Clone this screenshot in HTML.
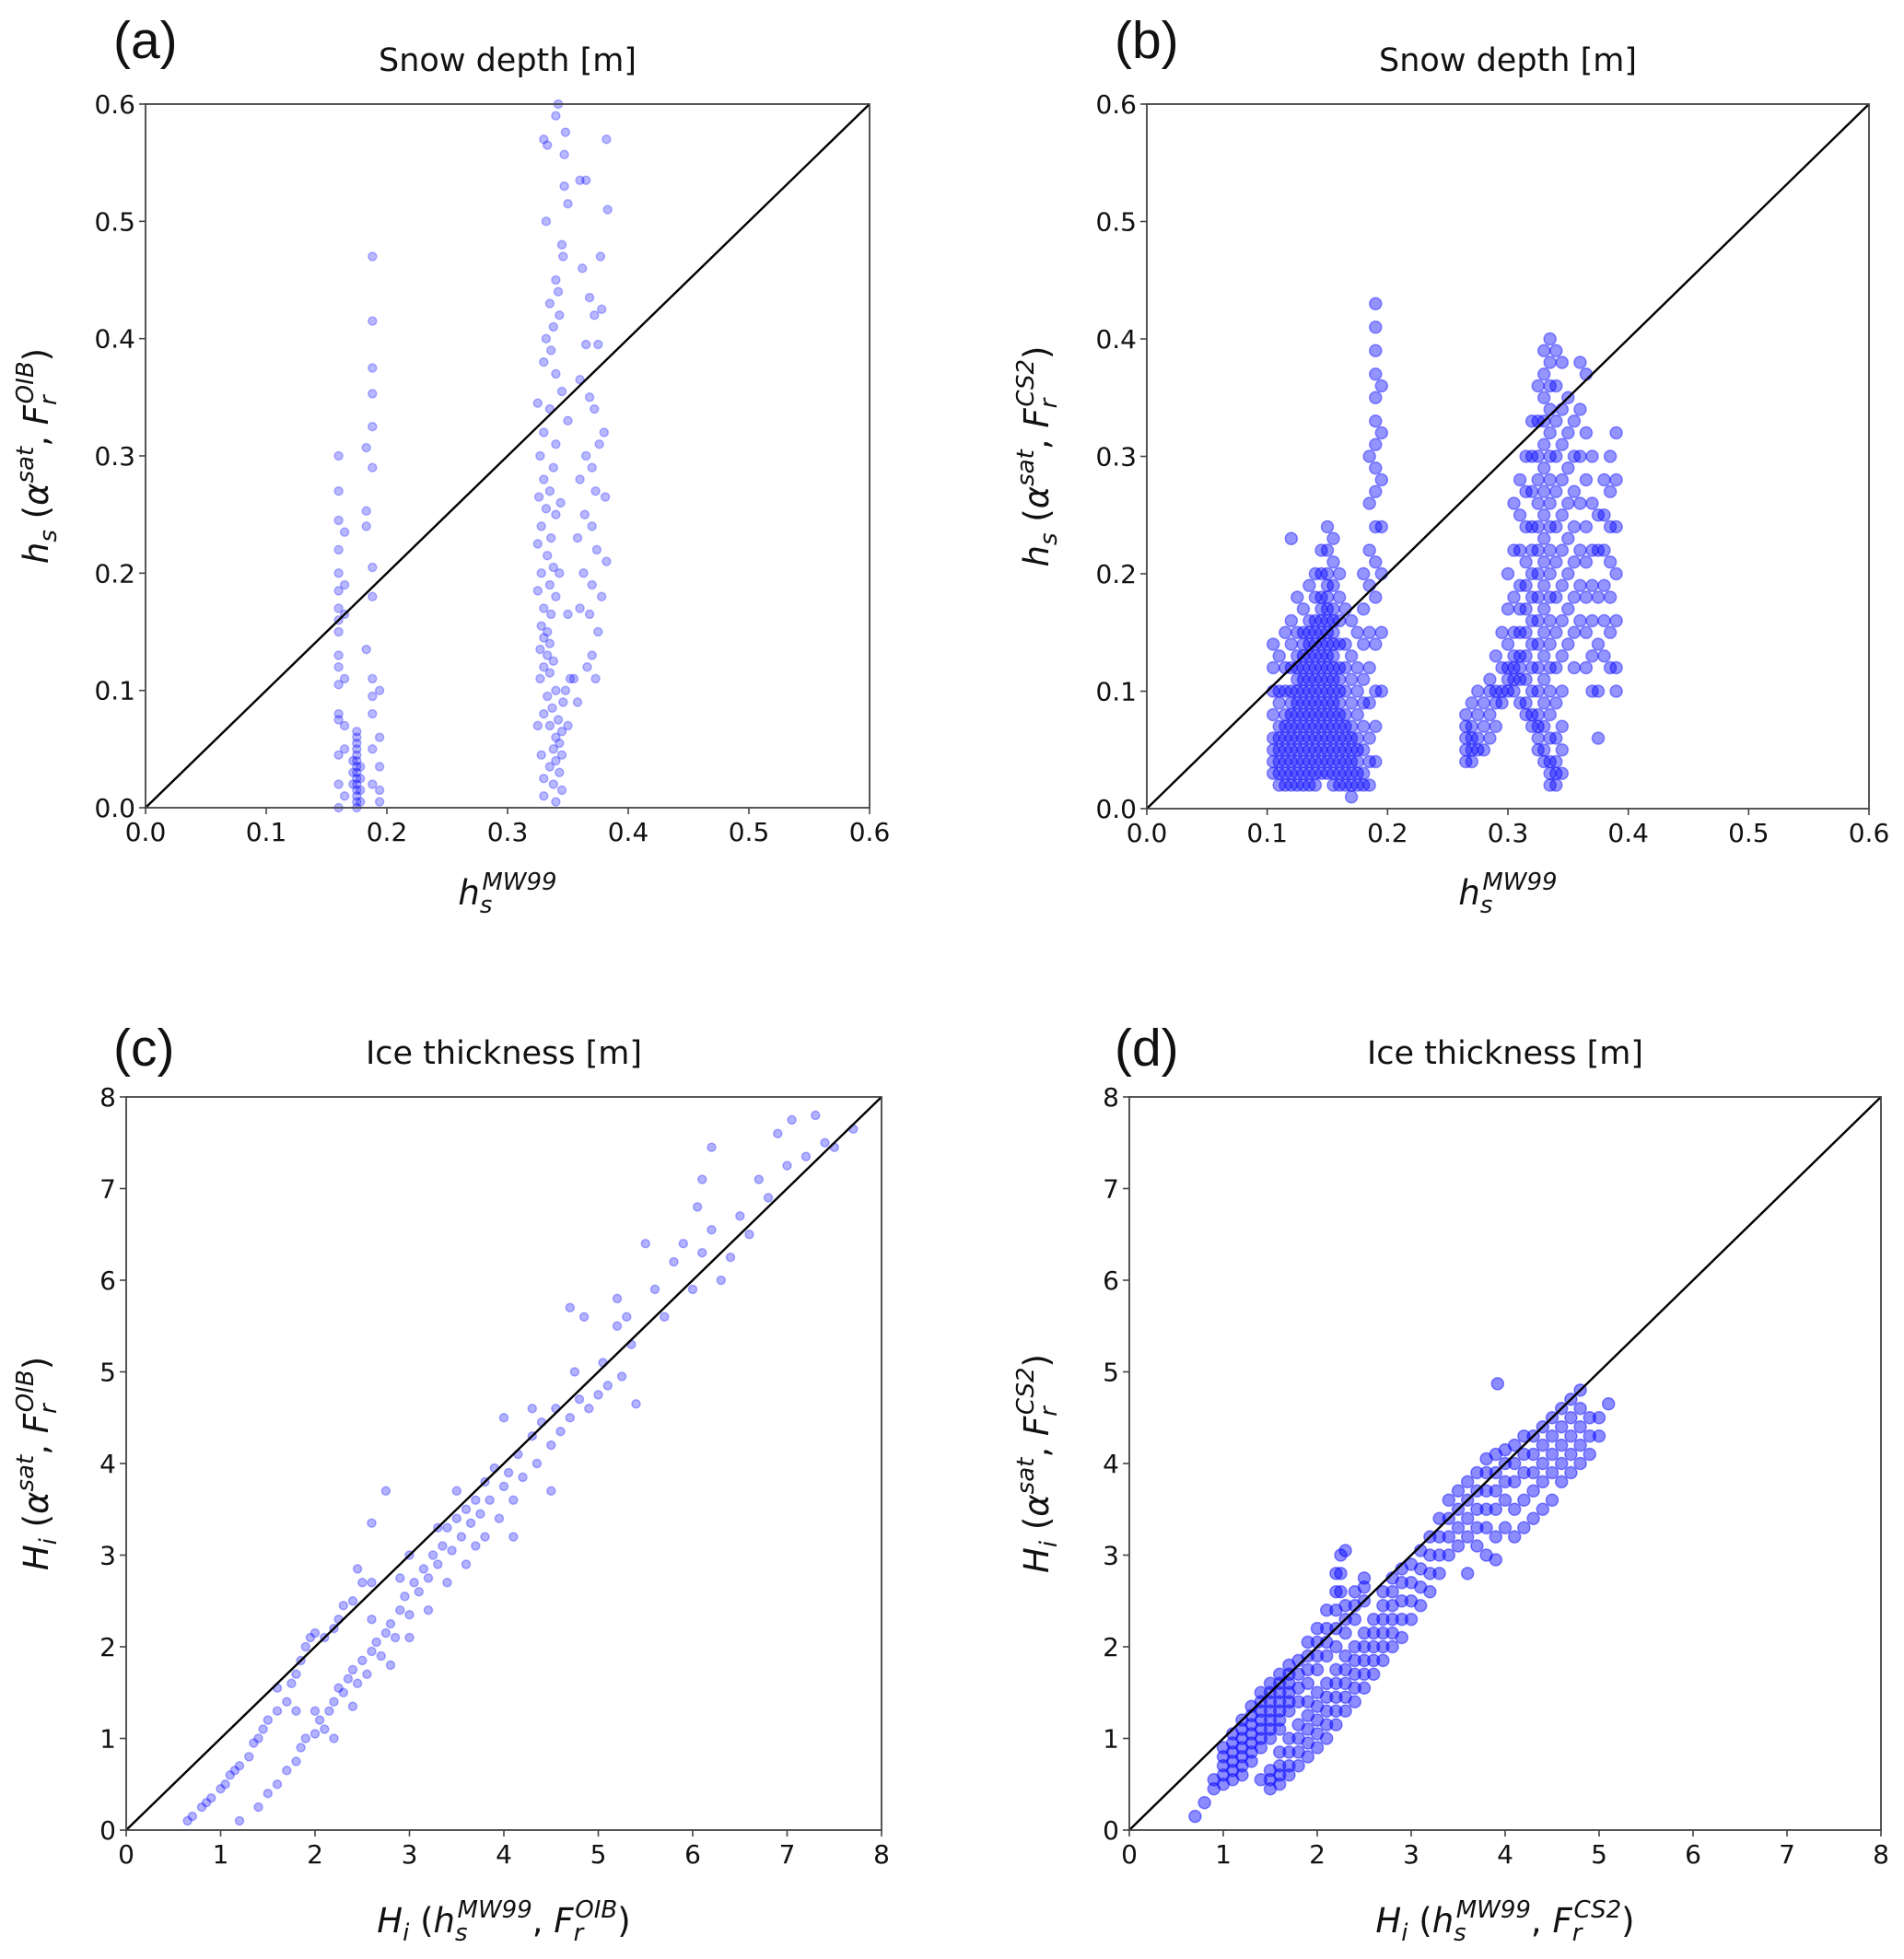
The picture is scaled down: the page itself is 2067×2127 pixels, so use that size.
<!DOCTYPE html>
<html><head><meta charset="utf-8">
<style>
html,body{margin:0;padding:0;background:#fff;}
svg{display:block;font-family:"DejaVu Sans","Liberation Sans",sans-serif;}
</style></head>
<body>
<svg id="fig" width="2067" height="2127" viewBox="0 0 2067 2127" xmlns="http://www.w3.org/2000/svg"></svg>
<script>
// ---------- Panel (a) data ----------
const aX = [0.16,0.16,0.16,0.16,0.16,0.16,0.16,0.16,0.16,0.16,0.16,0.16,0.16,0.16,0.16,0.16,0.16,
0.165,0.165,0.165,0.165,0.165,0.165,0.165,
0.175,0.175,0.175,0.175,0.175,0.175,0.175,0.175,0.175,0.175,0.175,0.175,0.175,0.175,
0.172,0.172,0.172,0.178,0.178,0.178,0.178,
0.188,0.188,0.188,0.188,0.188,0.188,0.188,0.188,0.188,0.188,0.188,0.188,0.188,
0.183,0.183,0.183,0.183,0.194,0.194,0.194,0.194,0.194,
0.33,0.333,0.342,0.348,0.347,0.34,0.35,0.332,0.347,0.345,0.346,0.34,0.342,0.335,0.343,0.338,0.332,0.336,0.34,0.33,0.345,0.335,0.325,0.33,0.34,0.35,0.327,0.338,0.33,0.335,0.326,0.332,0.34,0.328,0.336,0.325,0.333,0.338,0.328,0.335,0.325,0.34,0.33,0.336,0.328,0.333,0.33,0.335,0.327,0.333,0.338,0.33,0.335,0.327,0.34,0.333,0.337,0.33,0.342,0.335,0.345,0.34,0.343,0.338,0.345,0.34,0.335,0.343,0.33,0.338,0.345,0.33,0.34,0.325,0.328,0.348,0.35,0.346,0.344,0.343,0.35,0.355,
0.36,0.365,0.382,0.383,0.377,0.362,0.368,0.372,0.378,0.365,0.375,0.36,0.368,0.372,0.38,0.376,0.365,0.37,0.36,0.373,0.381,0.364,0.37,0.358,0.374,0.382,0.363,0.37,0.378,0.36,0.368,0.375,0.37,0.366,0.373,0.358,0.352];
const aY = [0.30,0.27,0.245,0.22,0.20,0.185,0.17,0.16,0.15,0.13,0.12,0.105,0.08,0.075,0.045,0.02,0.0,
0.235,0.19,0.165,0.11,0.07,0.05,0.01,
0.06,0.05,0.04,0.035,0.03,0.025,0.02,0.015,0.01,0.005,0.0,0.045,0.055,0.065,
0.04,0.03,0.02,0.035,0.025,0.015,0.005,
0.47,0.415,0.375,0.353,0.325,0.29,0.205,0.18,0.11,0.095,0.08,0.05,0.02,
0.307,0.253,0.24,0.135,0.1,0.06,0.035,0.015,0.005,
0.57,0.565,0.6,0.576,0.557,0.59,0.515,0.5,0.53,0.48,0.47,0.45,0.44,0.43,0.42,0.41,0.4,0.39,0.37,0.38,0.355,0.34,0.345,0.32,0.31,0.33,0.3,0.29,0.28,0.27,0.265,0.255,0.25,0.24,0.23,0.225,0.215,0.205,0.2,0.19,0.185,0.18,0.17,0.165,0.155,0.15,0.145,0.14,0.135,0.13,0.125,0.12,0.115,0.11,0.1,0.095,0.085,0.08,0.075,0.07,0.065,0.06,0.055,0.05,0.045,0.04,0.035,0.03,0.025,0.02,0.015,0.01,0.005,0.07,0.045,0.1,0.07,0.09,0.26,0.2,0.165,0.11,
0.535,0.535,0.57,0.51,0.47,0.46,0.435,0.42,0.425,0.395,0.395,0.365,0.35,0.34,0.32,0.31,0.3,0.29,0.28,0.27,0.265,0.25,0.24,0.23,0.22,0.21,0.2,0.19,0.18,0.17,0.165,0.15,0.13,0.12,0.11,0.09,0.11];

// ---------- Panel (b) data (columns) ----------
const bColX = [0.105,0.11,0.115,0.12,0.125,0.13,0.135,0.14,0.145,0.15,0.155,0.16,0.165,0.17,0.175,0.18,0.185,0.19,0.195,
0.265,0.27,0.275,0.28,0.285,0.29,0.295,0.3,0.305,0.31,0.315,0.32,0.325,0.33,0.335,0.34,0.345,0.35,0.355,0.36,0.365,0.37,0.375,0.38,0.385,0.39];
const bColY = [
[0.14,0.12,0.1,0.08,0.06,0.05,0.04,0.03],
[0.13,0.1,0.09,0.07,0.06,0.05,0.04,0.03,0.02],
[0.15,0.12,0.1,0.08,0.07,0.06,0.05,0.04,0.03,0.02],
[0.23,0.16,0.14,0.12,0.1,0.09,0.08,0.07,0.06,0.05,0.04,0.03,0.02],
[0.18,0.15,0.13,0.12,0.11,0.1,0.09,0.08,0.07,0.06,0.05,0.04,0.03,0.02],
[0.17,0.15,0.14,0.13,0.12,0.11,0.1,0.09,0.08,0.07,0.06,0.05,0.04,0.03,0.02],
[0.19,0.16,0.15,0.14,0.13,0.12,0.11,0.1,0.09,0.08,0.07,0.06,0.05,0.04,0.03,0.02],
[0.2,0.18,0.16,0.15,0.14,0.13,0.12,0.11,0.1,0.09,0.08,0.07,0.06,0.05,0.04,0.03,0.02],
[0.22,0.2,0.18,0.17,0.16,0.15,0.14,0.13,0.12,0.11,0.1,0.09,0.08,0.07,0.06,0.05,0.04,0.03],
[0.24,0.22,0.2,0.19,0.18,0.17,0.16,0.15,0.14,0.13,0.12,0.11,0.1,0.09,0.08,0.07,0.06,0.05,0.04,0.03],
[0.23,0.21,0.19,0.17,0.16,0.15,0.14,0.13,0.12,0.11,0.1,0.09,0.08,0.07,0.06,0.05,0.04,0.03,0.02],
[0.2,0.18,0.16,0.14,0.12,0.11,0.1,0.09,0.08,0.07,0.06,0.05,0.04,0.03,0.02],
[0.17,0.14,0.12,0.1,0.08,0.07,0.06,0.05,0.04,0.03,0.02],
[0.16,0.13,0.11,0.09,0.07,0.06,0.05,0.04,0.03,0.02,0.01],
[0.15,0.12,0.1,0.08,0.06,0.05,0.04,0.03,0.02],
[0.2,0.17,0.14,0.11,0.09,0.07,0.05,0.03,0.02],
[0.3,0.26,0.22,0.19,0.15,0.12,0.09,0.06,0.04,0.02],
[0.43,0.41,0.39,0.37,0.35,0.33,0.31,0.29,0.27,0.24,0.21,0.18,0.14,0.1,0.07,0.04],
[0.36,0.32,0.28,0.24,0.2,0.15,0.1],
[0.08,0.07,0.06,0.05,0.04],
[0.09,0.07,0.06,0.05,0.04],
[0.1,0.08,0.06,0.05],
[0.09,0.07,0.05],
[0.11,0.1,0.08,0.06],
[0.13,0.1,0.09,0.07],
[0.15,0.12,0.1,0.09],
[0.2,0.17,0.14,0.12,0.11,0.1],
[0.26,0.22,0.18,0.15,0.13,0.12,0.11,0.1],
[0.28,0.25,0.22,0.19,0.17,0.15,0.13,0.12,0.11,0.09],
[0.3,0.27,0.24,0.21,0.19,0.17,0.15,0.13,0.11,0.09,0.08],
[0.33,0.3,0.27,0.24,0.22,0.2,0.18,0.16,0.14,0.12,0.1,0.08,0.07],
[0.36,0.33,0.3,0.28,0.26,0.24,0.22,0.2,0.18,0.16,0.14,0.12,0.1,0.08,0.07,0.06,0.05],
[0.39,0.37,0.35,0.33,0.31,0.29,0.27,0.25,0.23,0.21,0.19,0.17,0.15,0.13,0.11,0.09,0.07,0.05,0.04],
[0.4,0.38,0.36,0.34,0.32,0.3,0.28,0.26,0.24,0.22,0.2,0.18,0.16,0.14,0.12,0.1,0.08,0.06,0.04,0.03,0.02],
[0.39,0.36,0.33,0.3,0.27,0.24,0.21,0.18,0.15,0.12,0.09,0.06,0.04,0.03,0.02],
[0.38,0.34,0.31,0.28,0.25,0.22,0.19,0.16,0.13,0.1,0.07,0.05,0.03],
[0.35,0.32,0.29,0.26,0.23,0.2,0.17,0.14],
[0.33,0.3,0.27,0.24,0.21,0.18,0.15,0.12],
[0.38,0.34,0.3,0.26,0.22,0.19,0.16],
[0.37,0.32,0.28,0.24,0.21,0.18,0.15,0.12],
[0.3,0.26,0.22,0.19,0.16,0.13,0.1],
[0.25,0.22,0.18,0.14,0.1,0.06],
[0.28,0.25,0.22,0.19,0.16,0.13],
[0.3,0.27,0.24,0.21,0.18,0.15,0.12],
[0.32,0.28,0.24,0.2,0.16,0.12,0.1]];

// ---------- Panel (c) data ----------
const cX = [0.65,0.7,0.8,0.85,0.9,1.0,1.05,1.1,1.15,1.2,1.3,1.35,1.4,1.45,1.5,1.6,1.6,1.7,1.75,1.8,1.85,1.9,1.95,2.0,2.1,2.2,2.25,2.4,2.45,2.6,2.6,2.75,2.5,2.3,
1.2,1.4,1.5,1.6,1.7,1.8,1.85,1.9,2.0,2.05,2.1,2.15,2.2,2.25,2.3,2.35,2.4,2.45,2.5,2.55,2.6,2.65,2.7,2.75,2.8,2.85,2.9,2.95,3.0,3.05,3.1,3.15,3.2,3.25,3.3,3.35,3.4,3.45,3.5,3.55,3.6,3.65,3.7,3.75,3.8,3.85,3.9,3.95,4.0,4.05,4.1,4.15,4.2,4.3,4.35,4.4,4.5,4.55,4.6,4.7,4.75,4.8,4.85,4.9,5.0,5.05,5.1,5.2,5.25,5.3,5.35,5.4,5.5,5.6,5.7,5.8,5.9,6.0,6.05,6.1,6.2,6.3,6.4,6.5,6.6,6.7,6.8,6.9,7.0,7.05,7.2,7.3,7.4,7.5,7.7,6.2,6.1,2.0,2.4,2.8,3.0,3.2,3.4,3.6,3.8,2.6,3.0,3.3,3.5,4.0,4.3,4.7,5.2,4.5,4.1,2.2,1.8,2.9,3.7];
const cY = [0.1,0.15,0.25,0.3,0.35,0.45,0.5,0.6,0.65,0.7,0.8,0.95,1.0,1.1,1.2,1.3,1.55,1.4,1.6,1.7,1.85,2.0,2.1,2.15,2.1,2.2,2.3,2.5,2.85,2.7,3.35,3.7,2.7,2.45,
0.1,0.25,0.4,0.5,0.65,0.75,0.9,1.0,1.05,1.2,1.1,1.3,1.4,1.55,1.5,1.65,1.75,1.6,1.85,1.7,1.95,2.05,1.9,2.15,2.25,2.1,2.4,2.55,2.35,2.7,2.6,2.85,2.75,3.0,2.9,3.1,3.3,3.05,3.4,3.2,3.5,3.35,3.6,3.45,3.8,3.6,3.95,3.4,3.75,3.9,3.6,4.1,3.85,4.3,4.0,4.45,4.2,4.6,4.35,4.5,5.0,4.7,5.6,4.6,4.75,5.1,4.85,5.5,4.95,5.6,5.3,4.65,6.4,5.9,5.6,6.2,6.4,5.9,6.8,6.3,6.55,6.0,6.25,6.7,6.5,7.1,6.9,7.6,7.25,7.75,7.35,7.8,7.5,7.45,7.65,7.45,7.1,1.3,1.35,1.8,2.1,2.4,2.7,2.9,3.2,2.3,3.0,3.3,3.7,4.5,4.6,5.7,5.8,3.7,3.2,1.0,1.3,2.75,3.1];

// ---------- Panel (d) data (columns) ----------
const dUpperX = [0.7,0.8,0.9,1.0,1.1,1.2,1.3,1.4,1.5,1.6,1.7,1.8,1.9,2.0,2.1,2.2,2.25,2.3,2.4,2.5];
const dUpperY = [[0.15],[0.3],[0.45,0.55],[0.5,0.6,0.7,0.8,0.9],[0.55,0.65,0.75,0.85,0.95,1.05],[0.6,0.7,0.8,0.9,1.0,1.1,1.2],
[0.75,0.85,0.95,1.05,1.15,1.25,1.35],[0.9,1.0,1.1,1.2,1.3,1.4,1.5],[1.0,1.1,1.2,1.3,1.4,1.5,1.6],[1.1,1.2,1.3,1.4,1.5,1.6,1.7],
[1.3,1.4,1.5,1.6,1.7,1.8],[1.4,1.55,1.7,1.85],[1.6,1.75,1.9,2.05],[1.75,1.9,2.05,2.2],[1.9,2.05,2.2,2.4],[2.0,2.2,2.4,2.6,2.8],
[2.6,2.8,3.0],[2.15,2.3,2.45,3.05],[2.3,2.45,2.6],[2.5,2.65,2.75]];
const dLowerX = [1.4,1.5,1.6,1.7,1.8,1.9,2.0,2.1,2.2,2.3,2.4,2.5,2.6,2.7,2.8,2.9,3.0,3.1,3.2,3.3,3.4,3.5,3.6,3.7,3.8,3.9,3.92,4.0,4.1,4.2,4.3,4.4,4.5,4.6,4.7,4.8,4.9,5.0,5.1];
const dLowerY = [[0.55],[0.45,0.55,0.65],[0.5,0.6,0.7,0.85],[0.6,0.7,0.85,1.0],[0.7,0.85,1.0,1.15],[0.8,0.95,1.1,1.25,1.4],
[0.9,1.05,1.2,1.35,1.5],[1.0,1.15,1.3,1.45,1.6],[1.15,1.3,1.45,1.6,1.75],[1.3,1.45,1.6,1.75,1.9],[1.4,1.55,1.7,1.85,2.0],
[1.55,1.7,1.85,2.0,2.15],[1.7,1.85,2.0,2.15,2.3],[1.85,2.0,2.15,2.3,2.45,2.6],[2.0,2.15,2.3,2.45,2.6,2.75],[2.1,2.3,2.5,2.7,2.85],
[2.3,2.5,2.7,2.9],[2.45,2.65,2.85,3.05],[2.6,2.8,3.0,3.2],[2.8,3.0,3.2,3.4],[3.0,3.2,3.4,3.6],[3.1,3.3,3.5,3.7],[2.8,3.2,3.4,3.6,3.8],
[3.1,3.3,3.5,3.7,3.9],[3.0,3.3,3.5,3.7,3.9,4.05],[2.95,3.2,3.5,3.7,3.9,4.1],[4.87],[3.3,3.6,3.8,4.0,4.15],[3.2,3.5,3.8,4.0,4.2],
[3.3,3.6,3.9,4.1,4.3],[3.4,3.7,3.9,4.1,4.3],[3.5,3.8,4.0,4.2,4.4],[3.6,3.9,4.1,4.3,4.5],[3.8,4.0,4.2,4.4,4.6],[3.9,4.1,4.3,4.5,4.7],
[4.0,4.2,4.4,4.6,4.8],[4.1,4.3,4.5],[4.3,4.5],[4.65]];

// ---------- Tick labels ----------
const snowTicks = ["0.0","0.1","0.2","0.3","0.4","0.5","0.6"];
const iceTicks = ["0","1","2","3","4","5","6","7","8"];

const NS = "http://www.w3.org/2000/svg";
const svg = document.getElementById("fig");
function mk(tag, attrs, parent) {
  const e = document.createElementNS(NS, tag);
  for (const k in attrs) e.setAttribute(k, attrs[k]);
  (parent || svg).appendChild(e);
  return e;
}
function flattenCols(xs, ys) {
  const px = [], py = [];
  xs.forEach((x, i) => ys[i].forEach(y => { px.push(x); py.push(y); }));
  return [px, py];
}

function panel(cfg) {
  const g = mk("g", {});
  
  
  const {L, R, T, B, max} = cfg;
  const sx = v => L + (v / max) * (R - L);
  const sy = v => B - (v / max) * (B - T);
  const pg = mk("g", {fill: `rgba(0,0,255,${cfg.op})`, stroke: `rgba(0,0,255,${cfg.op})`, "stroke-width": 1.5}, g);
  
  
  cfg.xs.forEach((x, i) => {
    const c = mk("circle", {cx: sx(x).toFixed(1), cy: sy(cfg.ys[i]).toFixed(1), r: cfg.r}, pg);
    
    
  });
  const ln = mk("line", {x1: sx(0), y1: sy(0), x2: sx(max), y2: sy(max), stroke: "#000", "stroke-width": 2.4}, g);
  
  
  const fr = mk("rect", {x: L, y: T, width: R - L, height: B - T, fill: "none", stroke: "#444", "stroke-width": 1.8}, g);
  
  
  const n = cfg.ticks.length - 1;
  cfg.ticks.forEach((t, i) => {
    const v = max * i / n;
    const xt = mk("line", {x1: sx(v), y1: B, x2: sx(v), y2: B + 7, stroke: "#444", "stroke-width": 1.6}, g);
    
    
    const xl = mk("text", {x: sx(v), y: B + 36, "text-anchor": "middle", "font-size": 28, fill: "#111"}, g);
    xl.textContent = t;
    
    
    const yt = mk("line", {x1: L - 7, y1: sy(v), x2: L, y2: sy(v), stroke: "#444", "stroke-width": 1.6}, g);
    
    
    const yl = mk("text", {x: L - 11, y: sy(v) + 10, "text-anchor": "end", "font-size": 28, fill: "#111"}, g);
    yl.textContent = t;
    
    
  });
  const tt = mk("text", {x: (L + R) / 2, y: cfg.titleY, "text-anchor": "middle", "font-size": 35, fill: "#111"}, g);
  tt.textContent = cfg.title;
  
  
  const pl = mk("text", {x: cfg.letterX, y: cfg.letterY, "font-size": 57, fill: "#111", "font-family": "Liberation Sans, sans-serif"}, g);
  pl.textContent = cfg.letter;
  
  
  const xlab = mk("text", {x: (L + R) / 2, y: cfg.xLabY, "text-anchor": "middle", "font-size": 37, fill: "#111"}, g);
  xlab.innerHTML = cfg.xLab;
  
  
  const cy = (T + B) / 2;
  const ylab = mk("text", {x: 0, y: 0, "text-anchor": "middle", "font-size": 37, fill: "#111", transform: `translate(${cfg.yLabX},${cy}) rotate(-90)`}, g);
  ylab.innerHTML = cfg.yLab;
  
  
}

const hsMW = `<tspan font-style="italic">h</tspan><tspan font-style="italic" font-size="26" dy="9">s</tspan><tspan font-style="italic" font-size="26" dx="-11" dy="-25">MW99</tspan><tspan dy="16"> </tspan>`;
const yLabHs = (F) => `<tspan font-style="italic">h</tspan><tspan font-style="italic" font-size="26" dy="9">s</tspan><tspan dy="-9"> (</tspan><tspan font-style="italic">α</tspan><tspan font-style="italic" font-size="26" dy="-16">sat</tspan><tspan dy="16">, </tspan><tspan font-style="italic">F</tspan><tspan font-style="italic" font-size="26" dy="9">r</tspan><tspan font-style="italic" font-size="26" dx="-9" dy="-25">${F}</tspan><tspan dy="16">)</tspan>`;
const yLabHi = (F) => `<tspan font-style="italic">H</tspan><tspan font-style="italic" font-size="26" dy="9">i</tspan><tspan dy="-9"> (</tspan><tspan font-style="italic">α</tspan><tspan font-style="italic" font-size="26" dy="-16">sat</tspan><tspan dy="16">, </tspan><tspan font-style="italic">F</tspan><tspan font-style="italic" font-size="26" dy="9">r</tspan><tspan font-style="italic" font-size="26" dx="-9" dy="-25">${F}</tspan><tspan dy="16">)</tspan>`;
const xLabHi = (F) => `<tspan font-style="italic">H</tspan><tspan font-style="italic" font-size="26" dy="9">i</tspan><tspan dy="-9"> (</tspan><tspan font-style="italic">h</tspan><tspan font-style="italic" font-size="26" dy="9">s</tspan><tspan font-style="italic" font-size="26" dx="-11" dy="-25">MW99</tspan><tspan dy="16">, </tspan><tspan font-style="italic">F</tspan><tspan font-style="italic" font-size="26" dy="9">r</tspan><tspan font-style="italic" font-size="26" dx="-9" dy="-25">${F}</tspan><tspan dy="16">)</tspan>`;

const [bX, bY] = flattenCols(bColX, bColY);
const [dux, duy] = flattenCols(dUpperX, dUpperY);
const [dlx, dly] = flattenCols(dLowerX, dLowerY);

panel({name: "panel-a-snow-oib", L: 158, R: 944, T: 113, B: 877, max: 0.6, ticks: snowTicks, xs: aX, ys: aY, r: 4.5, op: 0.28,
  title: "Snow depth [m]", titleY: 77, letter: "(a)", letterX: 123, letterY: 63, xLab: hsMW, xLabY: 982, yLabX: 52, yLab: yLabHs("OIB")});
panel({name: "panel-b-snow-cs2", L: 1245, R: 2029, T: 113, B: 878, max: 0.6, ticks: snowTicks, xs: bX, ys: bY, r: 6.5, op: 0.42,
  title: "Snow depth [m]", titleY: 77, letter: "(b)", letterX: 1210, letterY: 63, xLab: hsMW, xLabY: 982, yLabX: 1138, yLab: yLabHs("CS2")});
panel({name: "panel-c-ice-oib", L: 137, R: 957, T: 1191, B: 1987, max: 8, ticks: iceTicks, xs: cX, ys: cY, r: 4.5, op: 0.3,
  title: "Ice thickness [m]", titleY: 1155, letter: "(c)", letterX: 123, letterY: 1157, xLab: xLabHi("OIB"), xLabY: 2098, yLabX: 52, yLab: yLabHi("OIB")});
panel({name: "panel-d-ice-cs2", L: 1226, R: 2042, T: 1191, B: 1987, max: 8, ticks: iceTicks, xs: dux.concat(dlx), ys: duy.concat(dly), r: 6.5, op: 0.45,
  title: "Ice thickness [m]", titleY: 1155, letter: "(d)", letterX: 1210, letterY: 1157, xLab: xLabHi("CS2"), xLabY: 2098, yLabX: 1138, yLab: yLabHi("CS2")});
</script>
</body></html>
